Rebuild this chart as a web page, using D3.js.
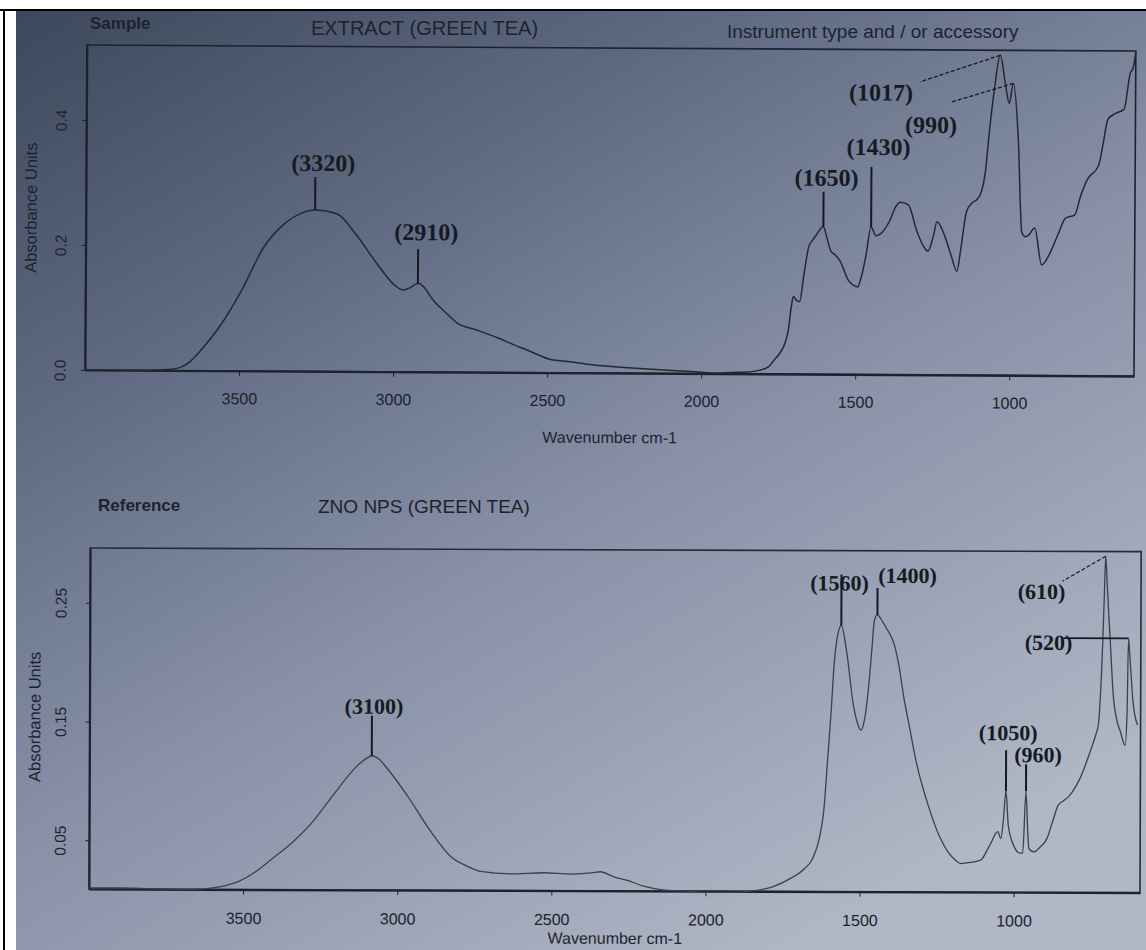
<!DOCTYPE html>
<html>
<head>
<meta charset="utf-8">
<title>FTIR - green tea extract and ZnO NPs</title>
<script src="https://d3js.org/d3.v7.min.js"></script>
<style>
  body { margin: 0; background: #fff; }
  svg { display: block; }
  .axis path, .axis line { stroke: #1d232d; }
  .axis text { font-family: "Liberation Sans", Arial, sans-serif; fill: #1d232d; }
  .lbl { font-family: "Liberation Sans", Arial, sans-serif; fill: #1d232d; }
  .peak { font-family: "Liberation Serif", "Times New Roman", serif; font-weight: bold; fill: #161a22; }
</style>
</head>
<body>
<svg id="chart" width="1146" height="950"></svg>
<script>
// ---- data ----
var xTicks = [3500, 3000, 2500, 2000, 1500, 1000];
var sampleYTicks = [0, 0.2, 0.4];
var referenceYTicks = [0.05, 0.15, 0.25];

var sampleWavenumber = [4000, 3900, 3800, 3720, 3690, 3660, 3620, 3565, 3493, 3422, 3350, 3300, 3256, 3184, 3124,
  3053, 2993, 2970, 2945, 2921, 2900, 2876, 2830, 2791, 2732, 2660, 2612, 2560, 2495, 2414, 2355, 2250, 2147,
  2060, 2020, 1962, 1900, 1850, 1809, 1780, 1764, 1747, 1728, 1718, 1708, 1702, 1692, 1682, 1668, 1653, 1640,
  1630, 1606, 1595, 1582, 1565, 1552, 1523, 1505, 1494, 1480, 1468, 1451, 1435, 1421, 1392, 1370, 1357, 1331,
  1302, 1280, 1266, 1250, 1237, 1214, 1190, 1172, 1160, 1142, 1123, 1110, 1094, 1080, 1071, 1053, 1035, 1017,
  1005, 992, 975, 962, 950, 939, 920, 897, 868, 845, 820, 791, 770, 749, 714, 700, 684, 660, 632, 613, 603, 596];
var sampleAbsorbance = [0, 0, 0, 0.002, 0.005, 0.014, 0.035, 0.07, 0.129, 0.198, 0.238, 0.253, 0.258, 0.252, 0.22,
  0.172, 0.137, 0.131, 0.135, 0.142, 0.135, 0.118, 0.095, 0.078, 0.068, 0.055, 0.045, 0.035, 0.022, 0.017, 0.013, 0.009, 0.006,
  0.004, 0.003, 0.001, 0.002, 0.003, 0.006, 0.012, 0.022, 0.032, 0.05, 0.07, 0.11, 0.124, 0.118, 0.116, 0.16, 0.204, 0.215,
  0.222, 0.236, 0.22, 0.198, 0.19, 0.182, 0.15, 0.142, 0.14, 0.16, 0.188, 0.236, 0.222, 0.225, 0.245, 0.27, 0.276, 0.272,
  0.229, 0.205, 0.198, 0.22, 0.245, 0.225, 0.19, 0.166, 0.2, 0.261, 0.276, 0.28, 0.293, 0.33, 0.379, 0.459, 0.512, 0.464,
  0.435, 0.467, 0.379, 0.229, 0.222, 0.225, 0.236, 0.177, 0.198, 0.225, 0.252, 0.257, 0.29, 0.315, 0.336, 0.37, 0.411, 0.42, 0.427, 0.484, 0.494, 0.515];

var referenceWavenumber = [4000, 3900, 3800, 3700, 3630, 3560, 3513, 3460, 3406, 3340, 3286, 3205, 3133, 3100, 3084,
  3060, 3039, 2967, 2896, 2825, 2770, 2730, 2633, 2526, 2435, 2370, 2341, 2300, 2256, 2200, 2140, 2060, 1997, 1900,
  1841, 1780, 1724, 1680, 1652, 1630, 1617, 1605, 1594, 1585, 1575, 1562, 1545, 1522, 1510, 1497, 1485, 1474, 1462,
  1455, 1445, 1430, 1416, 1390, 1375, 1360, 1340, 1318, 1272, 1240, 1214, 1190, 1172, 1140, 1107, 1085, 1071, 1060,
  1052, 1042, 1034, 1026, 1018, 1000, 980, 971, 961, 955, 951, 935, 915, 893, 875, 857, 840, 821, 800, 786, 750, 735,
  727, 718, 714, 709, 705, 700, 695, 687, 679, 668, 656, 640, 634, 630, 626, 615, 600];
var referenceAbsorbance = [0.010, 0.010, 0.0095, 0.009, 0.0095, 0.012, 0.016, 0.024, 0.035, 0.049, 0.063, 0.09, 0.113, 0.12, 0.122,
  0.119, 0.113, 0.088, 0.06, 0.037, 0.029, 0.025, 0.023, 0.024, 0.023, 0.024, 0.025, 0.021, 0.018, 0.013, 0.010, 0.009, 0.008, 0.008,
  0.0095, 0.013, 0.020, 0.028, 0.037, 0.055, 0.077, 0.12, 0.161, 0.2, 0.223, 0.233, 0.212, 0.166, 0.152, 0.145, 0.155, 0.178, 0.215,
  0.237, 0.242, 0.237, 0.231, 0.217, 0.2, 0.175, 0.148, 0.119, 0.077, 0.055, 0.043, 0.036, 0.033, 0.034, 0.036, 0.045, 0.052, 0.058,
  0.06, 0.054, 0.07, 0.094, 0.065, 0.048, 0.042, 0.042, 0.094, 0.06, 0.046, 0.043, 0.047, 0.054, 0.068, 0.082, 0.086, 0.09, 0.098, 0.105, 0.13, 0.142,
  0.15, 0.19, 0.217, 0.26, 0.292, 0.27, 0.246, 0.21, 0.175, 0.155, 0.145, 0.133, 0.16, 0.223, 0.21, 0.17, 0.15];

// marked peaks: label, wavenumber, absorbance of the marked point
var samplePeaks = [["(3320)", 3256, 0.258], ["(2910)", 2921, 0.142], ["(1650)", 1606, 0.236],
  ["(1430)", 1451, 0.236], ["(1017)", 1035, 0.512], ["(990)", 992, 0.467]];
var referencePeaks = [["(3100)", 3084, 0.122], ["(1560)", 1562, 0.233], ["(1400)", 1445, 0.242],
  ["(610)", 705, 0.292], ["(520)", 630, 0.223], ["(1050)", 1026, 0.094], ["(960)", 961, 0.094]];

// ---- page ----
var svg = d3.select("#chart");
var defs = svg.append("defs");
var grad = defs.append("linearGradient").attr("id", "paper")
  .attr("x1", 0).attr("y1", 0).attr("x2", 0.7).attr("y2", 1);
grad.append("stop").attr("offset", 0).attr("stop-color", "#3d485c");
grad.append("stop").attr("offset", 0.3).attr("stop-color", "#606b83");
grad.append("stop").attr("offset", 0.6).attr("stop-color", "#8891a7");
grad.append("stop").attr("offset", 1).attr("stop-color", "#b0b7c6");

// photo of the printout, with the page border
svg.append("rect").attr("x", 16).attr("y", 11).attr("width", 1130).attr("height", 939).attr("fill", "url(#paper)");
svg.append("line").attr("x1", 0).attr("x2", 1146).attr("y1", 10).attr("y2", 10).attr("stroke", "#000").attr("stroke-width", 2);
svg.append("line").attr("x1", 4).attr("x2", 4).attr("y1", 9).attr("y2", 950).attr("stroke", "#000").attr("stroke-width", 2);

function drawPanel(cfg) {
  // the photo is a little tilted: rotate each panel round its lower left corner
  var g = svg.append("g")
    .attr("transform", "rotate(" + cfg.tilt + "," + cfg.left + "," + cfg.bottom + ")");
  var x = d3.scaleLinear().domain([4000, cfg.wnEnd]).range([cfg.left, cfg.right]);
  var y = d3.scaleLinear().domain(cfg.yDomain).range([cfg.bottom, cfg.top]);

  g.append("rect")
    .attr("x", cfg.left).attr("y", cfg.top)
    .attr("width", cfg.right - cfg.left).attr("height", cfg.bottom - cfg.top)
    .attr("fill", "none").attr("stroke", cfg.ink).attr("stroke-width", 1.6);

  var xAxis = d3.axisBottom(x).tickValues(xTicks).tickFormat(d3.format("d"))
    .tickSize(5).tickSizeOuter(0).tickPadding(cfg.tickPad);
  var xg = g.append("g").attr("class", "axis")
    .attr("transform", "translate(0," + cfg.bottom + ")").call(xAxis);
  xg.select(".domain").attr("stroke-width", 2.2);
  xg.selectAll("text").style("font-size", "16px");

  var yAxis = d3.axisLeft(y).tickValues(cfg.yTicks).tickFormat(d3.format(cfg.yFormat))
    .tickSize(4).tickSizeOuter(0);
  var yg = g.append("g").attr("class", "axis")
    .attr("transform", "translate(" + cfg.left + ",0)").call(yAxis);
  yg.select(".domain").attr("stroke-width", 2);
  yg.selectAll(".tick text")
    .style("font-size", "15.5px")
    .attr("text-anchor", "middle")
    .attr("x", null).attr("dy", "0.35em")
    .attr("transform", "translate(" + (-cfg.left + cfg.yLabelX) + ",0) rotate(-90)");

  g.append("text").attr("class", "lbl")
    .attr("transform", "translate(" + cfg.unitsX + "," + cfg.unitsY + ") rotate(-90)")
    .attr("text-anchor", "middle").attr("dy", "0.35em")
    .style("font-size", "16.5px").text("Absorbance Units");

  g.append("text").attr("class", "lbl")
    .attr("x", cfg.wnLabelX).attr("y", cfg.wnLabelY)
    .attr("text-anchor", "middle").style("font-size", "16px")
    .text("Wavenumber cm-1");

  var line = d3.line()
    .x(function(d) { return x(d[0]); })
    .y(function(d) { return y(d[1]); })
    .curve(d3.curveMonotoneX);
  var pts = cfg.wn.map(function(w, i) { return [w, cfg.abs[i]]; });
  g.append("path").attr("d", line(pts))
    .attr("fill", "none").attr("stroke", cfg.lineInk).attr("stroke-width", cfg.lineWidth)
    .attr("stroke-linejoin", "round");

  // peak marks
  cfg.peaks.forEach(function(p) {
    var px = x(p[1]), py = y(p[2]);
    var lay = cfg.layout[p[0]];
    if (lay.type == "v") {
      g.append("line").attr("x1", px).attr("x2", px).attr("y1", py).attr("y2", py - lay.len)
        .attr("stroke", "#161a22").attr("stroke-width", 2);
    } else {
      g.append("line").attr("x1", px).attr("y1", py)
        .attr("x2", px + lay.ex).attr("y2", py + lay.ey)
        .attr("stroke", "#161a22").attr("stroke-width", lay.type == "dash" ? 1.3 : 1.8)
        .attr("stroke-dasharray", lay.type == "dash" ? "4,2" : null);
    }
    g.append("text").attr("class", "peak")
      .attr("x", px + lay.dx).attr("y", py + lay.dy)
      .attr("text-anchor", "middle").style("font-size", cfg.peakSize + "px")
      .text(p[0]);
  });

  return g;
}

drawPanel({
  left: 85, right: 1134, top: 45, bottom: 370, wnEnd: 595, yDomain: [0, 0.52], tilt: 0.33,
  yTicks: sampleYTicks, yFormat: ".1f", yLabelX: 60, unitsX: 30, unitsY: 208,
  tickPad: 17, wnLabelX: 610, wnLabelY: 440, ink: "#1d232d", lineInk: "#232933", lineWidth: 1.5,
  wn: sampleWavenumber, abs: sampleAbsorbance, peaks: samplePeaks, peakSize: 24,
  layout: {
    "(3320)": { type: "v", len: 33, dx: 8, dy: -39 },
    "(2910)": { type: "v", len: 34, dx: 8, dy: -43 },
    "(1650)": { type: "v", len: 35, dx: 3, dy: -41 },
    "(1430)": { type: "v", len: 60, dx: 7, dy: -72 },
    "(1017)": { type: "dash", ex: -80, ey: 27, dx: -119, dy: 46 },
    "(990)": { type: "dash", ex: -62, ey: 19, dx: -82, dy: 50 }
  }
});

drawPanel({
  left: 89, right: 1140, top: 548, bottom: 889, wnEnd: 590, yDomain: [0.009, 0.296], tilt: 0.2,
  yTicks: referenceYTicks, yFormat: ".2f", yLabelX: 60, unitsX: 34, unitsY: 717,
  tickPad: 18, wnLabelX: 615, wnLabelY: 942, ink: "#262c37", lineInk: "#3a404c", lineWidth: 1.3,
  wn: referenceWavenumber, abs: referenceAbsorbance, peaks: referencePeaks, peakSize: 22,
  layout: {
    "(3100)": { type: "v", len: 40, dx: 2, dy: -42 },
    "(1560)": { type: "v", len: 51, dx: -2, dy: -35 },
    "(1400)": { type: "v", len: 27, dx: 30, dy: -32 },
    "(610)": { type: "dash", ex: -43, ey: 25, dx: -64, dy: 43 },
    "(520)": { type: "solid", ex: -65, ey: 0, dx: -80, dy: 12 },
    "(1050)": { type: "v", len: 41, dx: 2, dy: -51 },
    "(960)": { type: "v", len: 27, dx: 12, dy: -29 }
  }
});

// headings printed above each panel
svg.append("text").attr("class", "lbl").attr("x", 90).attr("y", 29)
  .style("font-size", "17px").style("font-weight", "bold").text("Sample");
svg.append("text").attr("class", "lbl").attr("x", 311).attr("y", 35)
  .style("font-size", "20px").text("EXTRACT  (GREEN TEA)");
svg.append("text").attr("class", "lbl").attr("x", 727).attr("y", 38)
  .style("font-size", "19px").text("Instrument type and / or accessory");
svg.append("text").attr("class", "lbl").attr("x", 98).attr("y", 511)
  .style("font-size", "17px").style("font-weight", "bold").text("Reference");
svg.append("text").attr("class", "lbl").attr("x", 318).attr("y", 513)
  .style("font-size", "19px").text("ZNO NPS (GREEN TEA)");
</script>
</body>
</html>
